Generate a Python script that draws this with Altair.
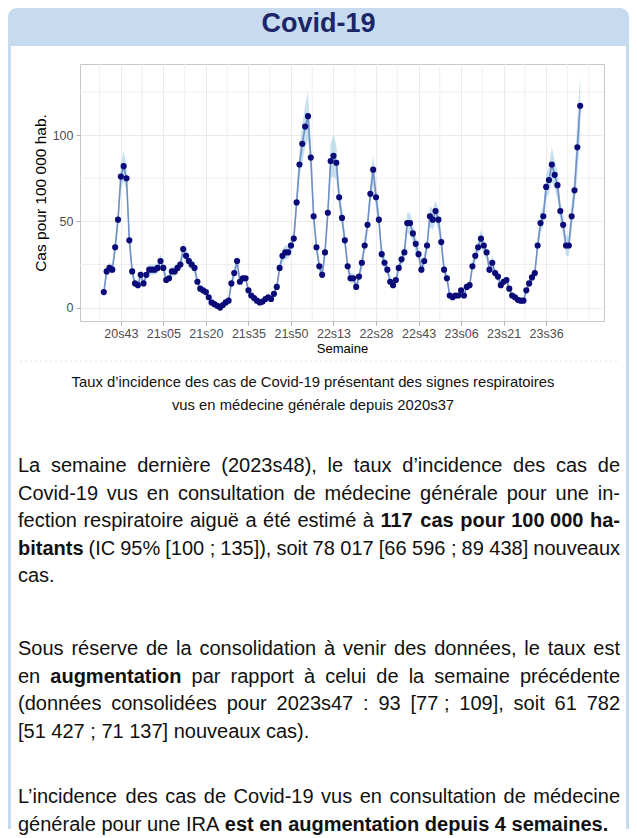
import altair as alt
import pandas as pd

# ---------------- data ----------------
taux = [9, 21, 23, 22, 35, 51, 76, 82, 75, 39,
        21, 14, 13, 19, 14, 19, 22, 22, 22, 23,
        27, 23, 16, 17, 21, 21, 23, 25, 34, 30,
        27, 25, 23, 15, 11, 10, 9, 6, 3, 2,
        1, 0, 1.5, 3, 4, 14, 20, 27, 15, 17,
        17, 10, 7, 5.5, 4, 3, 3.5, 5, 6, 5,
        8, 12, 23, 30, 32, 32, 36, 40, 61, 83,
        95, 105, 111, 87, 53, 35, 24, 19, 32, 55,
        85, 88, 84, 64, 52, 39, 24, 17, 17, 12,
        18, 26, 36, 48, 66, 80, 64, 51, 31, 26,
        22, 15, 13, 16, 23, 28, 32, 49, 49, 43,
        37, 31, 22, 27, 36, 53, 51, 56, 51, 38,
        22, 17, 7, 6, 7, 7, 10, 7, 12, 13,
        24, 30, 35, 40, 36, 32, 22, 26, 20, 18,
        13, 15, 16, 11, 7, 6, 4.5, 4, 4, 10,
        14, 17.5, 20, 36, 49, 53, 70, 74, 83, 77,
        71, 56, 48, 36, 36, 53, 68, 93, 117]

demi_ic = [2, 3, 3, 3, 4, 5, 7, 9, 7, 5,
           3, 2, 2, 3, 2, 3, 3, 3, 3, 3,
           4, 3, 2, 2, 3, 3, 3, 3, 4, 4,
           4, 3, 3, 2, 2, 2, 2, 1, 1, 1,
           1, 1, 1, 1, 1, 2, 3, 4, 2, 2,
           2, 2, 1, 1, 1, 1, 1, 1, 1, 1,
           1, 2, 3, 4, 4, 4, 4, 5, 6, 8,
           11, 12, 14, 9, 6, 4, 3, 3, 4, 6,
           10, 12, 10, 7, 6, 5, 3, 3, 3, 2,
           3, 4, 4, 5, 7, 9, 7, 6, 4, 4,
           3, 2, 2, 2, 3, 4, 4, 6, 6, 5,
           5, 4, 3, 4, 4, 6, 6, 6, 6, 5,
           3, 3, 1, 1, 1, 1, 2, 1, 2, 2,
           3, 4, 4, 5, 4, 4, 3, 4, 3, 3,
           2, 2, 2, 2, 1, 1, 1, 1, 1, 2,
           2, 3, 3, 4, 6, 6, 7, 8, 10, 8,
           8, 6, 6, 6, 6, 7, 9, 16, 17.5]

# week labels (ISO weeks from 2020s37 to 2023s48; 2020 has 53 weeks)
semaines = []
for yy, first, last in [(20, 37, 53), (21, 1, 52), (22, 1, 52), (23, 1, 48)]:
    for w in range(first, last + 1):
        semaines.append(f"{yy}s{w:02d}")

ticks_sem = ["20s43", "21s05", "21s20", "21s35", "21s50", "22s13",
             "22s28", "22s43", "23s06", "23s21", "23s36"]
y_ticks = [0, 50, 100]
y_minor = [25, 75, 125]

titre = "Covid-19"
axe_y = "Cas pour 100 000 hab."
axe_x = "Semaine"
legende = ["Taux d\u2019incidence des cas de Covid-19 présentant des signes respiratoires",
           "vus en médecine générale depuis 2020s37"]

# paragraphs: list of lines; each line = (segments, justified); segment = (text, bold)
para1 = [
    ([("La semaine dernière (2023s48), le taux d\u2019incidence des cas de", False)], True),
    ([("Covid-19 vus en consultation de médecine générale pour une in-", False)], True),
    ([("fection respiratoire aiguë a été estimé à", False), ("117 cas pour 100~000 ha-", True)], True),
    ([("bitants", True), ("(IC 95% [100~; 135]), soit 78~017 [66~596~; 89~438] nouveaux", False)], True),
    ([("cas.", False)], False),
]
para2 = [
    ([("Sous réserve de la consolidation à venir des données, le taux est", False)], True),
    ([("en", False), ("augmentation", True), ("par rapport à celui de la semaine précédente", False)], True),
    ([("(données consolidées pour 2023s47 : 93 [77~; 109], soit 61 782", False)], True),
    ([("[51~427~; 71~137] nouveaux cas).", False)], False),
]
para3 = [
    ([("L\u2019incidence des cas de Covid-19 vus en consultation de médecine", False)], True),
    ([("générale pour une IRA", False), ("est en augmentation depuis 4 semaines.", True)], False),
]

# ---------------- frame ----------------
FONT = "Liberation Sans"
W, H = 524, 257
idx = list(range(len(semaines)))
tick_idx = [semaines.index(s) for s in ticks_sem]
step = tick_idx[1] - tick_idx[0]
x_minor = [t - step / 2 for t in tick_idx] + [tick_idx[-1] + step / 2, tick_idx[-1] + step]

df = pd.DataFrame({
    "i": idx,
    "semaine": semaines,
    "taux": taux,
    "bas": [max(0, v - h) for v, h in zip(taux, demi_ic)],
    "haut": [v + h for v, h in zip(taux, demi_ic)],
})

span = idx[-1] - idx[0]
x_dom = [idx[0] - 0.05 * span, idx[-1] + 0.05 * span]
y_lo, y_hi = 0 - 1, max(df["haut"])
y_dom = [y_lo - 0.05 * (y_hi - y_lo), y_hi + 0.05 * (y_hi - y_lo)]

xs = alt.Scale(domain=x_dom, nice=False, zero=False)
ys = alt.Scale(domain=y_dom, nice=False, zero=False)

lab_arr = "[" + ",".join(f"'{s}'" for s in ticks_sem) + "]"
val_arr = "[" + ",".join(str(t) for t in tick_idx) + "]"

x_axis = alt.Axis(values=tick_idx, labelExpr=f"{lab_arr}[indexof({val_arr}, datum.value)]",
                  title=axe_x, grid=True, gridColor="#ebebeb", gridWidth=1,
                  tickColor="#b3b3b3", tickSize=4, tickWidth=1, domain=False,
                  labelColor="#4d4d4d", labelFont=FONT, labelFontSize=12.5,
                  labelPadding=2, labelFlush=False, labelOverlap=False,
                  titleFont=FONT, titleFontSize=13, titleFontWeight="normal",
                  titleColor="#000000", titlePadding=3)
y_axis = alt.Axis(values=y_ticks, title=axe_y, grid=True, gridColor="#ebebeb", gridWidth=1,
                  tickColor="#b3b3b3", tickSize=4, tickWidth=1, domain=False,
                  labelColor="#4d4d4d", labelFont=FONT, labelFontSize=12.5,
                  labelPadding=3, labelFlush=False,
                  titleFont=FONT, titleFontSize=15.5, titleFontWeight="normal",
                  titleColor="#000000", titlePadding=4)

X = alt.X("i:Q", scale=xs, axis=x_axis)
Y = alt.Y("taux:Q", scale=ys, axis=y_axis)

base = alt.Chart(df)

vmin = alt.Chart(pd.DataFrame({"v": x_minor})).mark_rule(color="#ebebeb", strokeWidth=0.8).encode(
    x=alt.X("v:Q", scale=xs, axis=x_axis), y=alt.value(0), y2=alt.value(H))
hmin = alt.Chart(pd.DataFrame({"v": y_minor})).mark_rule(color="#ebebeb", strokeWidth=0.8).encode(
    y=alt.Y("v:Q", scale=ys, axis=y_axis), x=alt.value(0), x2=alt.value(W))

ribbon = base.mark_area(color="#9fcbe3", opacity=0.6).encode(
    x=X, y=alt.Y("bas:Q", scale=ys, axis=y_axis), y2="haut:Q")
line = base.mark_line(color="#6f8fc6", strokeWidth=1.6).encode(x=X, y=Y)
pts = base.mark_circle(color="#0a0a78", opacity=1, size=38).encode(x=X, y=Y)

# ---------------- text layout ----------------
REG, BOLD = {}, {}
for chars, w in [(" !,./:;[]ftI", 278), ("ijl\u2019", 222), ("'", 191), ("()-r", 333),
                 ("cksvxyzJç", 500), ("0123456789abdeghnopquL$#?àâäéèêëôöùûü", 556),
                 ("+<=>", 584), ("FTZ", 611), ("ABEKPSVXY&", 667), ("CDHNRUw", 722),
                 ("GOQ", 778), ("mM", 833), ("%", 889), ("W", 944)]:
    for c in chars:
        REG[c] = w
for chars, w in [(" !,./:;[]Iijl\u2019", 278), ("()-tf", 333), ("r", 389), ("z", 500),
                 ("0123456789aceksvxyJ$#àâäéèêë", 556), ("bdghnopquFTLZôöùûü", 611),
                 ("EPSVXY", 667), ("ABCDHKNRU", 722), ("GOQw", 778), ("M", 833),
                 ("m%", 889), ("W", 944)]:
    for c in chars:
        BOLD[c] = w

FS = 20
LEFT, RIGHT = -62, 540


def tw(s, b):
    t = BOLD if b else REG
    return sum(t.get(c, 556) for c in s) * FS / 1000


def layout(lines, y0, dy):
    rows = []
    for k, (segs, just) in enumerate(lines):
        toks = []
        for txt, b in segs:
            for w in txt.split(" "):
                if w:
                    toks.append((w.replace("~", " "), b))
        widths = [tw(t, b) for t, b in toks]
        if just and len(toks) > 1:
            gap = (RIGHT - LEFT - sum(widths)) / (len(toks) - 1)
        else:
            gap = 278 * FS / 1000
        x = LEFT
        for (t, b), w in zip(toks, widths):
            rows.append({"px": x, "py": y0 + k * dy, "t": t, "b": b})
            x += w + gap
    return rows


rows = layout(para1, 402, 27.5) + layout(para2, 585, 27.5) + layout(para3, 733, 27.5)
words = pd.DataFrame(rows)


def words_layer(bold):
    d = words[words["b"] == bold]
    return alt.Chart(d).mark_text(align="left", baseline="middle", font=FONT, fontSize=FS,
                                  fontWeight="bold" if bold else "normal", color="#111111").encode(
        x=alt.X("px:Q", scale=None, axis=None), y=alt.Y("py:Q", scale=None, axis=None), text="t:N")


one = pd.DataFrame({"a": [0]})
BLUE = "#c6dbef"
header = alt.Chart(one).mark_rect(color=BLUE, cornerRadiusTopLeft=9, cornerRadiusTopRight=9).encode(
    x=alt.value(-72), x2=alt.value(549), y=alt.value(-56), y2=alt.value(-18))
left_b = alt.Chart(one).mark_rect(color=BLUE).encode(
    x=alt.value(-72), x2=alt.value(-69), y=alt.value(-18), y2=alt.value(765))
right_b = alt.Chart(one).mark_rect(color=BLUE).encode(
    x=alt.value(546), x2=alt.value(549), y=alt.value(-18), y2=alt.value(765))
head_txt = alt.Chart(one).mark_text(text=titre, font=FONT, fontSize=27, fontWeight="bold",
                                    color="#1b2567", align="center", baseline="middle").encode(
    x=alt.value(238.5), y=alt.value(-40))
dash = alt.Chart(one).mark_rule(color="#e4e4e4", strokeDash=[2, 3], strokeWidth=1).encode(
    x=alt.value(-60), x2=alt.value(540), y=alt.value(297))
cap1 = alt.Chart(one).mark_text(text=legende[0], font=FONT, fontSize=14.8, color="#111111",
                                align="center", baseline="middle").encode(
    x=alt.value(233), y=alt.value(319))
cap2 = alt.Chart(one).mark_text(text=legende[1], font=FONT, fontSize=14.8, color="#111111",
                                align="center", baseline="middle").encode(
    x=alt.value(233), y=alt.value(342))

chart = alt.layer(
    header, left_b, right_b, head_txt,
    vmin, hmin, ribbon, line, pts,
    dash, cap1, cap2, words_layer(False), words_layer(True),
).properties(width=W, height=H, padding=0, background="white").configure_view(
    stroke="#c8c8c8", strokeWidth=1)

chart.save("out.html", embed_options={"renderer": "svg", "actions": False})
